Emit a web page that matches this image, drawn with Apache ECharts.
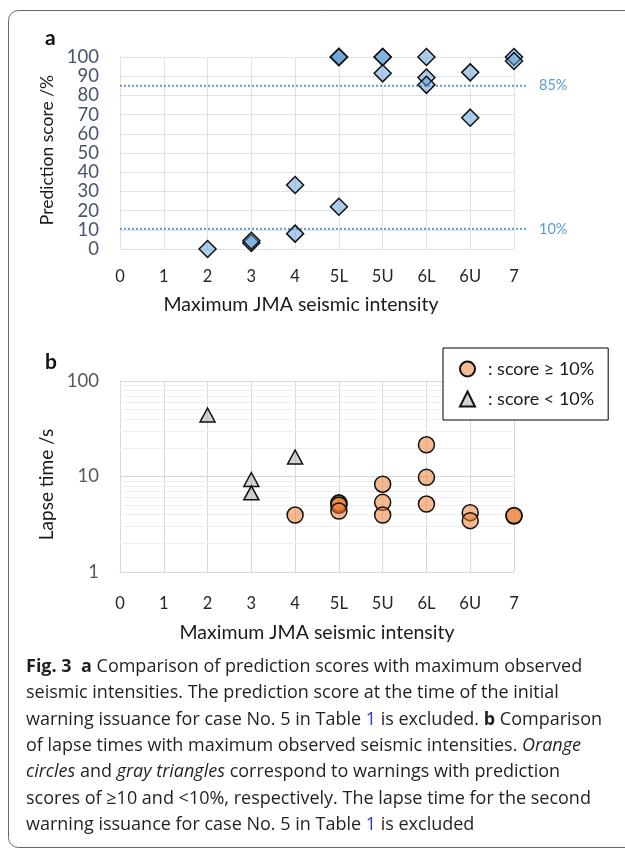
<!DOCTYPE html>
<html>
<head>
<meta charset="utf-8">
<script src="https://cdn.jsdelivr.net/npm/echarts@6/dist/echarts.min.js"></script>
<style>html,body{margin:0;padding:0;background:#fff;}#c{width:625px;height:848px;}</style>
</head>
<body>
<div id="c"></div>
<script>
// ---- data ----
const intensityLabels = ['0','1','2','3','4','5L','5U','6L','6U','7'];

// panel a: prediction score (%) per maximum JMA intensity
const scoreCats = ['2','3','3','4','4','5L','5L','5L','5L','5U','5U','5U','6L','6L','6L','6U','6U','7','7'];
const scoreVals = [0, 3.1, 4.3, 33.3, 8.0, 100, 100, 100, 22, 100, 100, 91.5, 100, 89.3, 85.5, 92, 68.4, 100, 97.9];

// reference levels in panel a
const refLevels = [85, 10.5];
const refLabels = ['85%', '10%'];

// panel b: lapse time (s)
const lapseHighCats = ['4','5L','5L','5L','5L','5U','5U','5U','6L','6L','6L','6U','6U','7','7'];
const lapseHighVals = [3.95, 5.3, 5.2, 5.0, 4.35, 8.3, 5.36, 3.95, 21.5, 9.8, 5.15, 4.18, 3.45, 3.86, 3.9];
const lapseLowCats = ['2','3','3','4'];
const lapseLowVals = [44, 9.3, 6.75, 16.0];
const lapseMinorGrid = [2,3,4,5,6,7,8,9,20,30,40,50,60,70,80,90];

const legendNames = [': score \u2265 10%', ': score < 10%'];

const captionLines = [
  '{b|Fig. 3  a} Comparison of prediction scores with maximum observed',
  'seismic intensities. The prediction score at the time of the initial',
  'warning issuance for case No. 5 in Table {l|1} is excluded. {b|b} Comparison',
  'of lapse times with maximum observed seismic intensities. {i|Orange}',
  '{i|circles} and {i|gray triangles} correspond to warnings with prediction',
  'scores of \u226510 and <10%, respectively. The lapse time for the second',
  'warning issuance for case No. 5 in Table {l|1} is excluded'
];

// ---- chart ----
const FONT = 'Lato';
const CAP_FONT = 'Open Sans';
const CAP_SIZE = 18;
const idx = c => intensityLabels.indexOf(c);
const chart = echarts.init(document.getElementById('c'), null, {renderer: 'canvas'});

const gridA = '#dde3ec';
const gridB = '#d9d9d9';

function xAxisFor(gi, margin, nameGap, pad, lineColor) {
  return {
    gridIndex: gi, type: 'value', min: 0, max: 9, interval: 1,
    axisLabel: {formatter: v => intensityLabels[v] || '', margin: margin, fontSize: 16.5, color: '#262626', fontFamily: FONT},
    axisTick: {show: false},
    axisLine: {show: true, onZero: false, lineStyle: {color: lineColor}},
    splitLine: {show: true, lineStyle: {color: lineColor}},
    name: 'Maximum JMA seismic intensity', nameLocation: 'middle', nameGap: nameGap,
    nameTextStyle: {fontSize: 19.5, color: '#1a1a1a', fontFamily: FONT, padding: pad}
  };
}

const option = {
  animation: false,
  backgroundColor: '#fff',
  textStyle: {fontFamily: FONT},
  grid: [
    {left: 120, top: 57, width: 394, height: 192},
    {left: 120, top: 57, width: 408, height: 192},
    {left: 120, top: 381, width: 394, height: 191}
  ],
  xAxis: [
    xAxisFor(0, 19, 46, [0, 32, 0, 0], gridA),
    {gridIndex: 1, type: 'value', min: 0, max: 1, show: false},
    xAxisFor(2, 23, 51, [0, 0, 0, 0], gridB)
  ],
  yAxis: [
    {
      gridIndex: 0, type: 'value', min: 0, max: 100, interval: 10,
      axisLabel: {fontSize: 18.5, color: '#44546A', margin: 21, fontFamily: FONT},
      axisTick: {show: false},
      axisLine: {show: true, lineStyle: {color: gridA}},
      splitLine: {show: true, lineStyle: {color: gridA}},
      name: 'Prediction score /%', nameLocation: 'middle', nameGap: 56,
      nameTextStyle: {fontSize: 17.5, color: '#1a1a1a', fontFamily: FONT, padding: [0, 0, 0, 6]}
    },
    {gridIndex: 1, type: 'value', min: 0, max: 100, show: false},
    {
      gridIndex: 2, type: 'log', logBase: 10, min: 1, max: 100,
      axisLabel: {fontSize: 18.5, color: '#595959', margin: 21, fontFamily: FONT},
      axisTick: {show: false},
      axisLine: {show: true, lineStyle: {color: gridB}},
      splitLine: {show: true, lineStyle: {color: gridB}},
      name: 'Lapse time /s', nameLocation: 'middle', nameGap: 63,
      nameTextStyle: {fontSize: 19, color: '#1a1a1a', fontFamily: FONT, padding: [0, 16, 0, 0]}
    }
  ],
  legend: {
    data: legendNames,
    orient: 'vertical', left: 443, top: 348,
    backgroundColor: '#fff', borderColor: '#000', borderWidth: 1,
    padding: [12, 14, 12, 16], itemGap: 12, itemWidth: 15, itemHeight: 15,
    textStyle: {fontSize: 18, color: '#1a1a1a', fontFamily: FONT, padding: [0, 0, 0, 8]}
  },
  series: [
    {
      type: 'scatter', xAxisIndex: 0, yAxisIndex: 0,
      data: scoreCats.map((c, i) => [idx(c), scoreVals[i]]),
      symbol: 'diamond', symbolSize: 17,
      itemStyle: {color: 'rgba(91,155,213,0.5)', borderColor: '#111', borderWidth: 1.5, opacity: 1},
      z: 3
    },
    ...refLevels.map((v, i) => ({
      type: 'line', xAxisIndex: 1, yAxisIndex: 1,
      data: [[0, v], [1, v]],
      symbol: 'none', silent: true,
      lineStyle: {color: '#5B9BD5', width: 2, type: [2, 2]},
      endLabel: {show: true, formatter: refLabels[i], color: '#5B9BD5', fontSize: 14.5, fontFamily: FONT, distance: 11},
      z: 2
    })),
    {
      name: legendNames[0],
      type: 'scatter', xAxisIndex: 2, yAxisIndex: 2,
      data: lapseHighCats.map((c, i) => [idx(c), lapseHighVals[i]]),
      symbol: 'circle', symbolSize: 16,
      itemStyle: {color: 'rgba(237,125,49,0.53)', borderColor: '#111', borderWidth: 1.5, opacity: 1},
      markLine: {
        silent: true, symbol: ['none', 'none'], label: {show: false}, z: 1,
        lineStyle: {color: '#ededed', type: 'solid', width: 1},
        emphasis: {disabled: true},
        data: lapseMinorGrid.map(v => ({yAxis: v}))
      },
      z: 3
    },
    {
      name: legendNames[1],
      type: 'scatter', xAxisIndex: 2, yAxisIndex: 2,
      data: lapseLowCats.map((c, i) => [idx(c), lapseLowVals[i]]),
      symbol: 'triangle', symbolSize: [15, 14],
      itemStyle: {color: 'rgba(165,165,165,0.5)', borderColor: '#111', borderWidth: 1.5, opacity: 1},
      z: 3
    }
  ],
  graphic: [
    {type: 'rect', z: -1, silent: true, shape: {x: 8.5, y: 10.5, width: 700, height: 837, r: 10},
      style: {fill: 'none', stroke: '#666', lineWidth: 1}},
    {type: 'text', x: 45, y: 38, style: {text: 'a', font: 'bold 21px ' + FONT, fill: '#111', verticalAlign: 'middle'}},
    {type: 'text', x: 45, y: 362, style: {text: 'b', font: 'bold 21px ' + FONT, fill: '#111', verticalAlign: 'middle'}},
    ...captionLines.map((t, i) => ({
      type: 'text', x: 26, y: 667 + i * 26.3,
      style: {
        text: t, fontSize: CAP_SIZE, fontFamily: CAP_FONT, fill: '#231f20', verticalAlign: 'middle',
        rich: {
          b: {fontSize: CAP_SIZE, fontFamily: CAP_FONT, fontWeight: 'bold', fill: '#231f20'},
          i: {fontSize: CAP_SIZE, fontFamily: CAP_FONT, fontStyle: 'italic', fill: '#231f20'},
          l: {fontSize: CAP_SIZE, fontFamily: CAP_FONT, fill: '#2b34d9'}
        }
      }
    }))
  ]
};
chart.setOption(option);
</script>
</body>
</html>
